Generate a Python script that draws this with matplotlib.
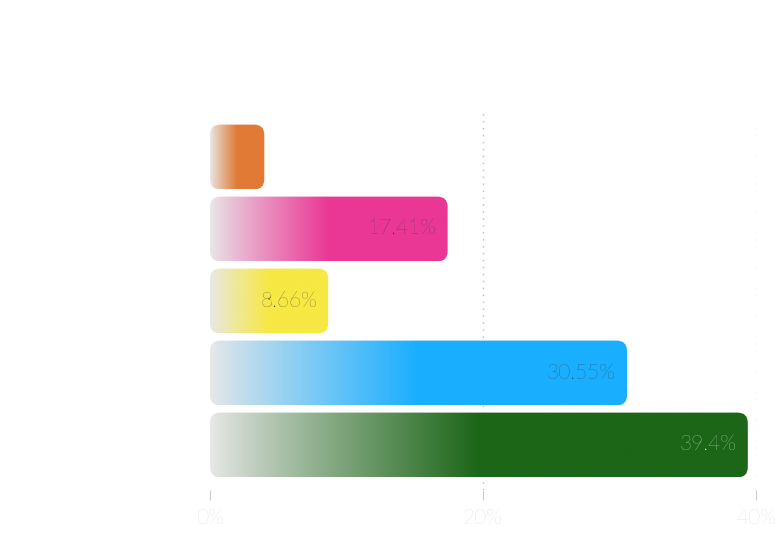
import numpy as np
import matplotlib
matplotlib.use("Agg")
import matplotlib.pyplot as plt
from matplotlib.patches import FancyBboxPatch
from matplotlib.colors import to_rgb

categories = ["A", "B", "C", "D", "E"]
values = [3.98, 17.41, 8.66, 30.55, 39.4]
labels = ["", "17.41%", "8.66%", "30.55%", "39.4%"]
colors = ["#E07A35", "#EA3795", "#F7E843", "#1AAEFF", "#1C6618"]
label_colors = ["#333333", "#333333", "#333333", "#333333", "#ffffff"]
xticks = [0, 20, 40]
xticklabels = ["0%", "20%", "40%"]

fig = plt.figure(figsize=(7.84, 5.6), dpi=100)
ax = fig.add_axes([210/784, 1-490/560, 546/784, 380/560])
ax.set_xlim(0, 40)
ax.set_ylim(4.625, -0.653)
for s in ax.spines.values():
    s.set_visible(False)

for x in [20, 40]:
    ax.axvline(x, color="#bbbbbb", lw=1, ls=(0, (1, 4)), zorder=0)

h = 0.9
gray = np.array(to_rgb("#e8e8e8"))
for i, (v, c) in enumerate(zip(values, colors)):
    col = np.array(to_rgb(c))
    n = 256
    t = np.linspace(0, 1, n)
    w = np.clip(t / 0.5, 0, 1) ** 0.9
    img = (gray[None, :] * (1 - w[:, None]) + col[None, :] * w[:, None])[None, :, :]
    patch = FancyBboxPatch((0, i - h/2), v, h,
                           boxstyle="round,pad=0,rounding_size=0.75",
                           mutation_aspect=13.65/72, fc="none", ec="none")
    ax.add_patch(patch)
    im = ax.imshow(img, extent=(0, v, i + h/2, i - h/2), aspect="auto", zorder=2)
    im.set_clip_path(patch)
    if labels[i]:
        ax.text(v - 0.8, i, labels[i], ha="right", va="center", fontsize=15,
                color=label_colors[i], family="Lato", weight="light", zorder=3)

ax.set_yticks([])
ax.set_xticks(xticks)
ax.set_xticklabels(xticklabels, fontsize=15, color="#cccccc", family="Lato", weight="light")
ax.tick_params(axis="x", length=7, color="#cccccc", pad=6)
ax.set_xlim(0, 40)
ax.set_ylim(4.625, -0.653)
fig.savefig("out.png", dpi=100)
